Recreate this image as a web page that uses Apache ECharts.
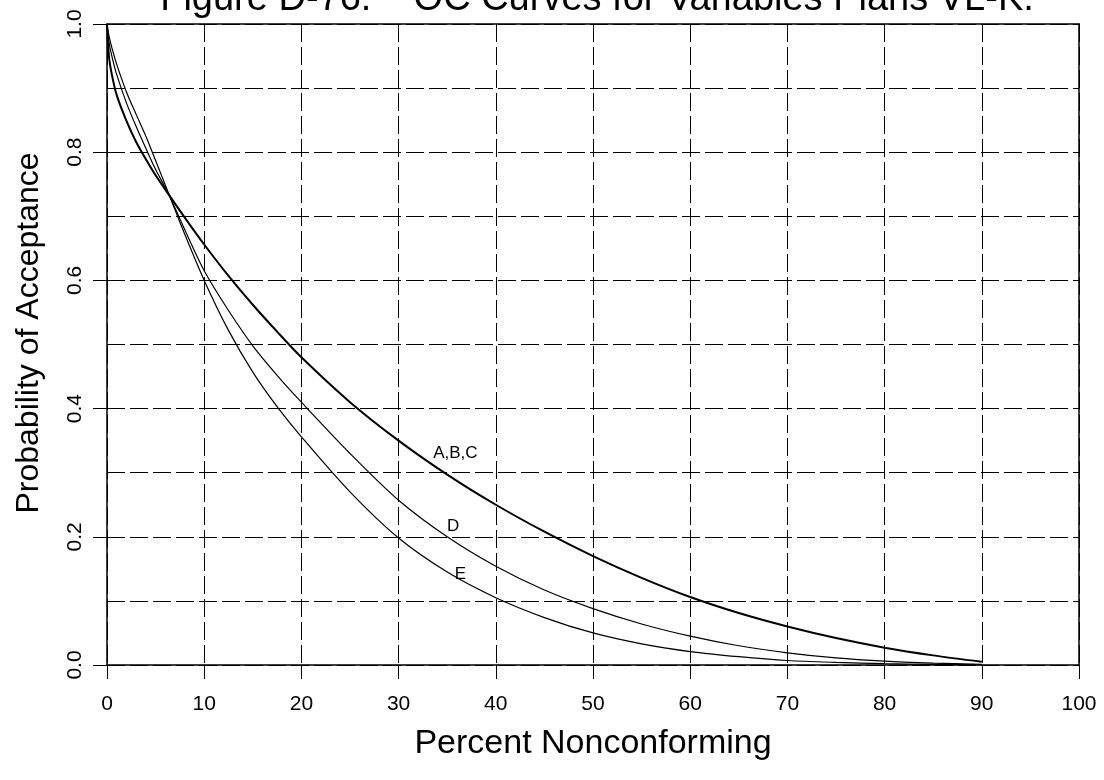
<!DOCTYPE html>
<html>
<head>
<meta charset="utf-8">
<script src="https://cdn.jsdelivr.net/npm/echarts@6/dist/echarts.min.js"></script>
<style>
  html, body { margin: 0; padding: 0; background: #fff; }
  #chart { width: 1104px; height: 780px; }
</style>
</head>
<body>
<div id="chart"></div>
<script>
// Percent nonconforming at which the OC curves are sampled
const percentNonconforming = [0, 0.2, 0.5, 1, 2, 3, 4, 5, 6.3, 8, 10, 12.5, 15, 17.5, 20, 25, 30, 35, 40, 45, 50, 55, 60, 65, 70, 75, 80, 85, 90];

// Probability of acceptance for each plan group
const planABC = [1.0, 0.95, 0.921, 0.889, 0.849, 0.816, 0.789, 0.764, 0.735, 0.698, 0.656, 0.607, 0.562, 0.52, 0.48, 0.41, 0.35, 0.297, 0.25, 0.208, 0.17, 0.136, 0.106, 0.081, 0.06, 0.042, 0.027, 0.015, 0.005];
const planD   = [1.0, 0.972, 0.95, 0.921, 0.877, 0.84, 0.806, 0.773, 0.736, 0.679, 0.615, 0.553, 0.498, 0.452, 0.41, 0.33, 0.257, 0.2, 0.154, 0.117, 0.088, 0.064, 0.045, 0.03, 0.019, 0.011, 0.006, 0.003, 0.001];
const planE   = [1.0, 0.982, 0.963, 0.937, 0.894, 0.859, 0.825, 0.787, 0.737, 0.672, 0.6, 0.522, 0.457, 0.403, 0.356, 0.27, 0.198, 0.145, 0.105, 0.074, 0.05, 0.033, 0.021, 0.013, 0.007, 0.004, 0.002, 0.001, 0.0];

// Curve labels: [text, x, y]
const curveLabels = [
  ['A,B,C', 35.84, 0.331],
  ['D', 35.6, 0.217],
  ['E', 36.35, 0.142]
];

const titleText = 'Figure D-76.    OC Curves for Variables Plans VL-K.';
const xName = 'Percent Nonconforming';
const yName = 'Probability of Acceptance';

const FONT = 'Arial, "Liberation Sans", sans-serif';
const dash = [18, 5];

function pairs(ys) {
  return percentNonconforming.map((x, i) => [x, ys[i]]);
}

function curve(name, ys, width, labelIdx) {
  const lab = curveLabels[labelIdx];
  return {
    name: name,
    type: 'line',
    data: pairs(ys),
    smooth: 0.3,
    showSymbol: false,
    symbol: 'none',
    lineStyle: { color: '#000', width: width },
    silent: true,
    z: 5,
    markPoint: {
      symbol: 'circle',
      symbolSize: 0,
      silent: true,
      label: {
        show: true,
        formatter: lab[0],
        color: '#000',
        fontFamily: FONT,
        fontSize: 17,
        position: 'inside'
      },
      data: [{ coord: [lab[1], lab[2]] }]
    }
  };
}

const chart = echarts.init(document.getElementById('chart'), null, { renderer: 'canvas' });

chart.setOption({
  animation: false,
  backgroundColor: '#fff',
  title: {
    text: titleText,
    left: 592,
    textAlign: 'center',
    top: -24,
    textStyle: { fontFamily: FONT, fontSize: 38, fontWeight: 'normal', color: '#000' }
  },
  // Vertical axis title, set beside the value labels
  graphic: [{
    type: 'text',
    x: 29,
    y: 333,
    rotation: Math.PI / 2,
    silent: true,
    style: {
      text: yName,
      fontFamily: FONT,
      fontSize: 32,
      fill: '#000',
      align: 'center',
      verticalAlign: 'middle'
    }
  }],
  grid: { left: 107, right: 25, top: 24, bottom: 115, containLabel: false },
  xAxis: [
    {
      type: 'value',
      min: 0, max: 100, interval: 10,
      position: 'bottom',
      name: xName,
      nameLocation: 'middle',
      nameGap: 62,
      nameTextStyle: { fontFamily: FONT, fontSize: 34, color: '#000' },
      axisLine: { show: true, lineStyle: { color: '#000', width: 1.5 } },
      axisTick: { show: true, inside: false, length: 14, lineStyle: { color: '#000', width: 1 } },
      axisLabel: { margin: 29, fontFamily: FONT, fontSize: 21, color: '#000' },
      splitLine: { show: true, lineStyle: { color: '#000', width: 1, type: dash } }
    },
    {
      type: 'value',
      min: 0, max: 100, interval: 10,
      position: 'top',
      axisLine: { show: true, onZero: false, lineStyle: { color: '#000', width: 1.5 } },
      axisTick: { show: false },
      axisLabel: { show: false },
      splitLine: { show: false }
    }
  ],
  yAxis: [
    {
      type: 'value',
      min: 0, max: 1, interval: 0.2,
      position: 'left',
      axisLine: { show: true, lineStyle: { color: '#000', width: 1.5 } },
      axisTick: { show: true, inside: false, length: 14, lineStyle: { color: '#000', width: 1 } },
      axisLabel: {
        margin: 21,
        rotate: 90,
        fontFamily: FONT, fontSize: 21, color: '#000',
        formatter: v => v.toFixed(1)
      },
      splitLine: { show: true, lineStyle: { color: '#000', width: 1, type: dash } },
      minorTick: { show: false, splitNumber: 2 },
      minorSplitLine: { show: true, lineStyle: { color: '#000', width: 1, type: dash } }
    },
    {
      type: 'value',
      min: 0, max: 1, interval: 0.2,
      position: 'right',
      axisLine: { show: true, onZero: false, lineStyle: { color: '#000', width: 1.5 } },
      axisTick: { show: false },
      axisLabel: { show: false },
      splitLine: { show: false }
    }
  ],
  series: [
    curve('A,B,C', planABC, 2, 0),
    curve('D', planD, 1.2, 1),
    curve('E', planE, 1.2, 2)
  ]
});
</script>
</body>
</html>
